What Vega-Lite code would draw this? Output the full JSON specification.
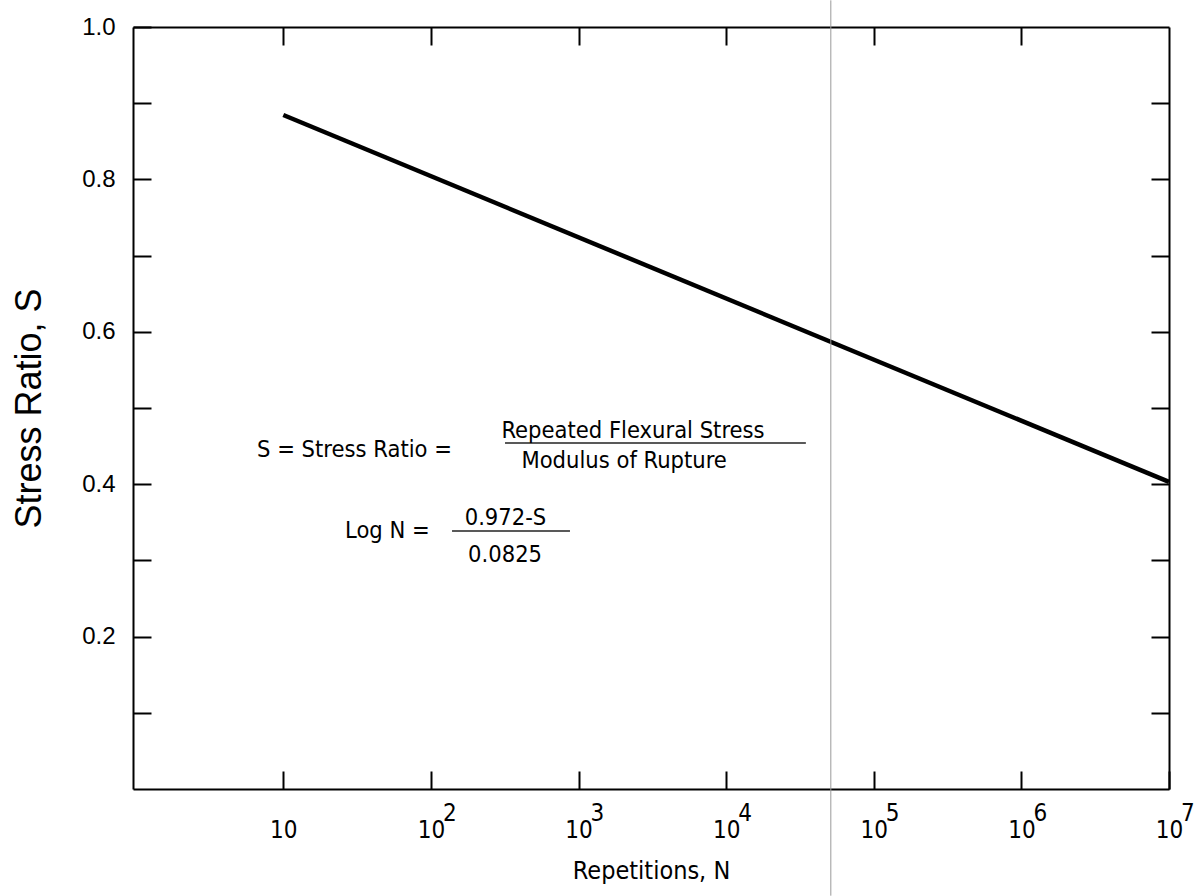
{
  "$schema": "https://vega.github.io/schema/vega-lite/v6.json",
  "width": 1036,
  "height": 762,
  "autosize": {"type": "none"},
  "padding": {"left": 133, "top": 27, "right": 27, "bottom": 107},
  "background": "white",
  "config": {
    "view": {"stroke": null},
    "axis": {
      "domainColor": "#000",
      "domainWidth": 2,
      "tickColor": "#000",
      "tickWidth": 2,
      "tickSize": -18,
      "grid": false,
      "labelColor": "#000",
      "titleColor": "#000",
      "titleFontWeight": "normal",
      "labelOverlap": false,
      "labelBound": false,
      "labelFlush": false
    }
  },
  "resolve": {"axis": {"x": "independent", "y": "independent"}},
  "layer": [
    {
      "data": {"values": [
        {"N": 10, "S": 0.8845},
        {"N": 10000000, "S": 0.403}
      ]},
      "mark": {"type": "line", "color": "#000", "strokeWidth": 4.5, "strokeCap": "butt"},
      "encoding": {
        "x": {
          "field": "N", "type": "quantitative",
          "scale": {"type": "log", "domain": [0.959, 10000000], "nice": false},
          "axis": {
            "orient": "bottom",
            "values": [10, 100, 1000, 10000, 100000, 1000000, 10000000],
            "labelExpr": "'10'",
            "labelFont": "DejaVu Sans Condensed, Liberation Sans, sans-serif",
            "labelFontSize": 24,
            "labelBaseline": "alphabetic",
            "labelPadding": 66,
            "title": "Repetitions, N",
            "titleFont": "DejaVu Sans Condensed, Liberation Sans, sans-serif",
            "titleFontSize": 25,
            "titleX": 518,
            "titleY": 81,
            "titleBaseline": "middle",
            "titleAnchor": "middle"
          }
        },
        "y": {
          "field": "S", "type": "quantitative",
          "scale": {"domain": [0, 1], "nice": false},
          "axis": {
            "orient": "left",
            "values": [0.1, 0.2, 0.3, 0.4, 0.5, 0.6, 0.7, 0.8, 0.9, 1.0],
            "labelExpr": "round(datum.value*10)%2==0 ? format(datum.value,'.1f') : ''",
            "labelFont": "Liberation Sans, sans-serif",
            "labelFontSize": 24,
            "labelPadding": 36,
            "labelBaseline": "middle",
            "title": "Stress Ratio, S",
            "titleFont": "Liberation Sans, sans-serif",
            "titleFontSize": 36,
            "titleAngle": -90,
            "titleX": -104,
            "titleY": 381,
            "titleBaseline": "middle",
            "titleAnchor": "middle"
          }
        }
      }
    },
    {
      "data": {"values": [{"N": 51170}]},
      "mark": {"type": "rule", "color": "#9a9a9a", "strokeWidth": 1},
      "encoding": {
        "x": {
          "field": "N", "type": "quantitative",
          "scale": {"type": "log", "domain": [0.959, 10000000], "nice": false},
          "axis": {
            "orient": "top",
            "values": [10, 100, 1000, 10000, 100000, 1000000],
            "labels": false,
            "title": null
          }
        },
        "y": {
          "datum": -0.14, "type": "quantitative",
          "scale": {"domain": [0, 1], "nice": false},
          "axis": {
            "orient": "right",
            "values": [0.1, 0.2, 0.3, 0.4, 0.5, 0.6, 0.7, 0.8, 0.9],
            "labels": false,
            "title": null
          }
        },
        "y2": {"datum": 1.035}
      }
    },
    {
      "data": {"values": [
        {"N": 100, "exp": "2"},
        {"N": 1000, "exp": "3"},
        {"N": 10000, "exp": "4"},
        {"N": 100000, "exp": "5"},
        {"N": 1000000, "exp": "6"},
        {"N": 10000000, "exp": "7"}
      ]},
      "mark": {"type": "text", "align": "left", "baseline": "alphabetic", "dx": 12, "font": "DejaVu Sans Condensed, Liberation Sans, sans-serif", "fontSize": 24, "color": "#000"},
      "encoding": {
        "x": {"field": "N", "type": "quantitative", "scale": {"type": "log", "domain": [0.959, 10000000], "nice": false}, "axis": null},
        "y": {"datum": -0.042, "type": "quantitative", "scale": {"domain": [0, 1], "nice": false}, "axis": null},
        "text": {"field": "exp"}
      }
    },
    {
      "data": {"values": [
        {"N1": 317.7, "N2": 34670, "S": 0.4541},
        {"N1": 139, "N2": 875, "S": 0.3386}
      ]},
      "mark": {"type": "rule", "color": "#222", "strokeWidth": 1.6},
      "encoding": {
        "x": {"field": "N1", "type": "quantitative", "scale": {"type": "log", "domain": [0.959, 10000000], "nice": false}, "axis": null},
        "x2": {"field": "N2"},
        "y": {"field": "S", "type": "quantitative", "scale": {"domain": [0, 1], "nice": false}, "axis": null}
      }
    },
    {
      "data": {"values": [
        {"N": 6.64, "S": 0.4357, "label": "S = Stress Ratio ="},
        {"N": 26.2, "S": 0.3294, "label": "Log N ="}
      ]},
      "mark": {"type": "text", "align": "left", "baseline": "alphabetic", "font": "DejaVu Sans Condensed, Liberation Sans, sans-serif", "fontSize": 23.5, "color": "#000"},
      "encoding": {
        "x": {"field": "N", "type": "quantitative", "scale": {"type": "log", "domain": [0.959, 10000000], "nice": false}, "axis": null},
        "y": {"field": "S", "type": "quantitative", "scale": {"domain": [0, 1], "nice": false}, "axis": null},
        "text": {"field": "label"}
      }
    },
    {
      "data": {"values": [
        {"N": 2339, "S": 0.4606, "label": "Repeated Flexural Stress"},
        {"N": 2037, "S": 0.4213, "label": "Modulus of Rupture"},
        {"N": 320, "S": 0.3465, "label": "0.972-S"},
        {"N": 318, "S": 0.2979, "label": "0.0825"}
      ]},
      "mark": {"type": "text", "align": "center", "baseline": "alphabetic", "font": "DejaVu Sans Condensed, Liberation Sans, sans-serif", "fontSize": 23.5, "color": "#000"},
      "encoding": {
        "x": {"field": "N", "type": "quantitative", "scale": {"type": "log", "domain": [0.959, 10000000], "nice": false}, "axis": null},
        "y": {"field": "S", "type": "quantitative", "scale": {"domain": [0, 1], "nice": false}, "axis": null},
        "text": {"field": "label"}
      }
    }
  ]
}
